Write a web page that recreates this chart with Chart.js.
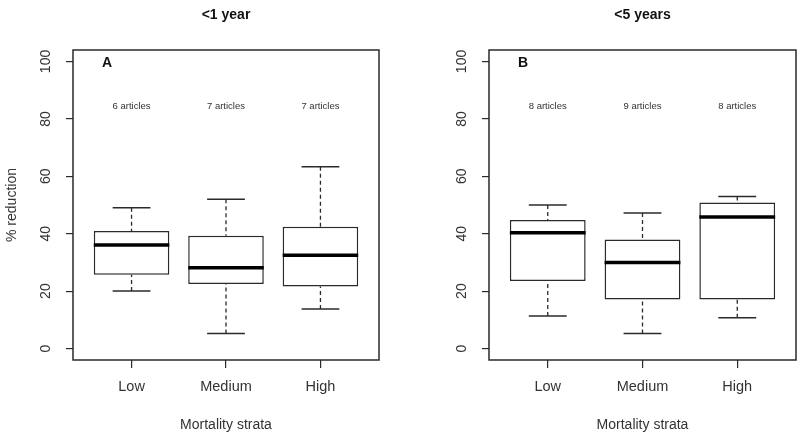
<!DOCTYPE html>
<html>
<head>
<meta charset="utf-8">
<script src="https://cdn.jsdelivr.net/npm/chart.js@4.4.1/dist/chart.umd.min.js"></script>
<style>
  html, body { margin: 0; padding: 0; background: #fff; }
  .wrap { display: flex; width: 800px; height: 438px; }
  canvas { display: block; }
</style>
</head>
<body>
<div class="wrap">
  <canvas id="panelA" width="400" height="438"></canvas>
  <canvas id="panelB" width="400" height="438"></canvas>
</div>
<script>
var strata = ['Low', 'Medium', 'High'];
var yTicks = [0, 20, 40, 60, 80, 100];

// panel A: <1 year
var aMin = [20, 5.2, 13.8];
var aQ1 = [25.7, 22.5, 21.6];
var aMed = [36.1, 28.1, 32.5];
var aQ3 = [40.9, 39.3, 42.4];
var aMax = [49, 52, 63.3];
var aArticles = ['6 articles', '7 articles', '7 articles'];

// panel B: <5 years
var bMin = [11.3, 5.2, 10.7];
var bQ1 = [23.5, 17.1, 17.1];
var bMed = [40.3, 30, 45.8];
var bQ3 = [44.8, 38, 50.9];
var bMax = [50, 47.2, 53];
var bArticles = ['8 articles', '9 articles', '8 articles'];

var INK = '#2a2a2a';
var TEXT = '#333';
var FONT = '"Liberation Sans", Arial, Helvetica, sans-serif';

function seg(points, width, dash, order, color) {
  return {
    type: 'line', data: points, borderColor: color || INK, borderWidth: width,
    borderDash: dash, pointRadius: 0, tension: 0, fill: false, order: order
  };
}

function buildDatasets(mins, q1s, meds, q3s, maxs) {
  var ds = [{
    type: 'bar',
    data: strata.map(function (s, i) { return { x: i + 1, y: [q1s[i], q3s[i]] }; }),
    backgroundColor: '#fff', borderColor: INK, borderWidth: 1.5, borderSkipped: false,
    barPercentage: 0.8, categoryPercentage: 1, order: 3
  }];
  strata.forEach(function (s, i) {
    var x = i + 1;
    ds.push(seg([{ x: x, y: maxs[i] }, { x: x, y: q3s[i] }], 1.3, [4, 3], 4));
    ds.push(seg([{ x: x, y: mins[i] }, { x: x, y: q1s[i] }], 1.3, [4, 3], 4));
    ds.push(seg([{ x: x - 0.2, y: maxs[i] }, { x: x + 0.2, y: maxs[i] }], 1.5, [], 2));
    ds.push(seg([{ x: x - 0.2, y: mins[i] }, { x: x + 0.2, y: mins[i] }], 1.5, [], 2));
    ds.push(seg([{ x: x - 0.4, y: meds[i] }, { x: x + 0.4, y: meds[i] }], 3.5, [], 1, '#000'));
  });
  return ds;
}

/* frame, rotated y labels, title, panel letter, article counts */
var decor = {
  id: 'decor',
  afterDraw: function (chart, args, opts) {
    var ctx = chart.ctx;
    var a = chart.chartArea;
    var xs = chart.scales.x, ys = chart.scales.y;
    ctx.save();
    ctx.strokeStyle = INK;
    ctx.lineWidth = 1.5;
    ctx.strokeRect(a.left, a.top, a.right - a.left, a.bottom - a.top);

    ctx.fillStyle = TEXT;
    ctx.font = '14px ' + FONT;
    ys.ticks.forEach(function (t) {
      ctx.save();
      ctx.translate(a.left - 27, ys.getPixelForValue(t.value));
      ctx.rotate(-Math.PI / 2);
      ctx.textAlign = 'center';
      ctx.textBaseline = 'middle';
      ctx.fillText(String(t.value), 0, 0);
      ctx.restore();
    });

    ctx.textAlign = 'center';
    ctx.textBaseline = 'middle';
    ctx.fillStyle = '#111';
    ctx.font = 'bold 14px ' + FONT;
    ctx.fillText(opts.title, (a.left + a.right) / 2, 15);
    ctx.fillText(opts.letter, xs.getPixelForValue(0.74), ys.getPixelForValue(99.3));

    ctx.fillStyle = TEXT;
    ctx.font = '9.5px ' + FONT;
    opts.articles.forEach(function (txt, i) {
      ctx.fillText(txt, xs.getPixelForValue(i + 1), ys.getPixelForValue(84.5));
    });
    ctx.restore();
  }
};

function makePanel(id, yWidth, padRight, showYTitle, datasets, deco) {
  return new Chart(document.getElementById(id), {
    type: 'bar',
    data: { datasets: datasets },
    plugins: [decor],
    options: {
      responsive: false,
      animation: false,
      events: [],
      devicePixelRatio: 1,
      layout: { padding: { top: 50, right: padRight, bottom: 0, left: 0 } },
      plugins: { legend: { display: false }, tooltip: { enabled: false }, decor: deco },
      scales: {
        x: {
          type: 'linear', min: 0.38, max: 3.62, offset: false,
          afterBuildTicks: function (s) { s.ticks = [1, 2, 3].map(function (v) { return { value: v }; }); },
          afterFit: function (s) { s.height = 78; },
          grid: { offset: false, drawOnChartArea: false, drawTicks: true, tickLength: 8, color: INK, lineWidth: 1.2 },
          border: { display: false },
          ticks: {
            color: TEXT, padding: 10, maxRotation: 0, autoSkip: false,
            font: { family: FONT, size: 14.5 },
            callback: function (v) { return strata[Math.round(v) - 1]; }
          },
          title: { display: true, text: 'Mortality strata', color: TEXT, font: { family: FONT, size: 14 }, padding: { top: 4, bottom: 4 } }
        },
        y: {
          type: 'linear', min: -4, max: 104,
          afterBuildTicks: function (s) { s.ticks = yTicks.map(function (v) { return { value: v }; }); },
          afterFit: function (s) { s.width = yWidth; },
          grid: { drawOnChartArea: false, drawTicks: true, tickLength: 7, color: INK, lineWidth: 1.2 },
          border: { display: false },
          ticks: { display: false },
          title: { display: showYTitle, text: '% reduction', color: TEXT, font: { family: FONT, size: 14 }, padding: { top: 4, bottom: 4 } }
        }
      }
    }
  });
}

makePanel('panelA', 73, 21, true, buildDatasets(aMin, aQ1, aMed, aQ3, aMax),
  { title: '<1 year', letter: 'A', articles: aArticles });
makePanel('panelB', 89, 4, false, buildDatasets(bMin, bQ1, bMed, bQ3, bMax),
  { title: '<5 years', letter: 'B', articles: bArticles });
</script>
</body>
</html>
